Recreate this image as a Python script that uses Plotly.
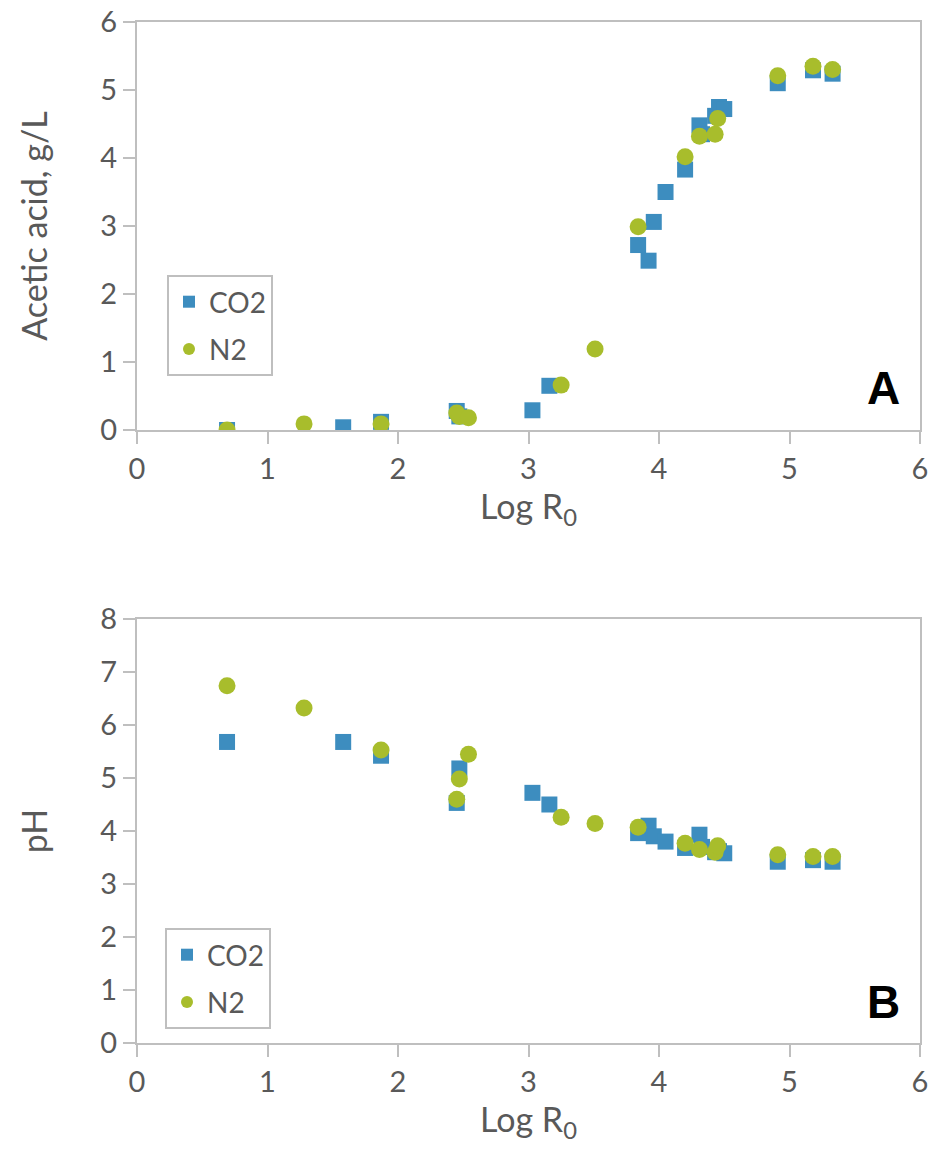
import plotly.graph_objects as go

# ---- data ----
x_co2 = [0.69, 1.58, 1.87, 2.45, 2.47, 3.03, 3.16, 3.84, 3.92, 3.96,
         4.05, 4.20, 4.31, 4.33, 4.43, 4.46, 4.50, 4.91, 5.18, 5.33]
acetic_co2 = [0.00, 0.04, 0.12, 0.28, 0.20, 0.29, 0.65, 2.72, 2.49, 3.06,
              3.50, 3.83, 4.48, 4.35, 4.62, 4.75, 4.72, 5.10, 5.29, 5.24]
ph_co2 = [5.68, 5.68, 5.42, 4.53, 5.18, 4.72, 4.50, 3.96, 4.10, 3.90,
          3.80, 3.68, 3.93, 3.70, 3.60, 3.62, 3.58, 3.42, 3.45, 3.42]

x_n2 = [0.69, 1.28, 1.87, 2.45, 2.47, 2.54, 3.25, 3.51, 3.84, 4.20,
        4.31, 4.43, 4.45, 4.91, 5.18, 5.33]
acetic_n2 = [0.00, 0.09, 0.09, 0.25, 0.20, 0.18, 0.66, 1.19, 2.99, 4.02,
             4.32, 4.35, 4.58, 5.21, 5.35, 5.30]
ph_n2 = [6.74, 6.32, 5.53, 4.60, 4.98, 5.45, 4.26, 4.14, 4.07, 3.77,
         3.65, 3.60, 3.72, 3.55, 3.52, 3.52]

x_ticks = [0, 1, 2, 3, 4, 5, 6]
acetic_ticks = [0, 1, 2, 3, 4, 5, 6]
ph_ticks = [0, 1, 2, 3, 4, 5, 6, 7, 8]

# ---- style ----
W, H = 933, 1157
BLUE = "#3d8dbf"
GREEN = "#a8bd2c"
AXIS = "#bfbfbf"
TXT = "#595959"
FONT = "Lato, 'Open Sans', sans-serif"
TICK_SIZE = 29
TITLE_SIZE = 34
LEG_SIZE = 28

fig = go.Figure()

fig.add_trace(go.Scatter(x=x_co2, y=acetic_co2, mode="markers", name="CO2",
                         marker=dict(symbol="square", size=16, color=BLUE),
                         xaxis="x", yaxis="y", legend="legend", legendgroup="a1"))
fig.add_trace(go.Scatter(x=x_n2, y=acetic_n2, mode="markers", name="N2",
                         marker=dict(symbol="circle", size=17, color=GREEN),
                         xaxis="x", yaxis="y", legend="legend", legendgroup="a2"))
fig.add_trace(go.Scatter(x=x_co2, y=ph_co2, mode="markers", name="CO2",
                         marker=dict(symbol="square", size=16, color=BLUE),
                         xaxis="x2", yaxis="y2", legend="legend2", legendgroup="b1"))
fig.add_trace(go.Scatter(x=x_n2, y=ph_n2, mode="markers", name="N2",
                         marker=dict(symbol="circle", size=17, color=GREEN),
                         xaxis="x2", yaxis="y2", legend="legend2", legendgroup="b2"))

xdom = [137 / W, 920 / W]
ydom_top = [1 - 430 / H, 1 - 22 / H]
ydom_bot = [1 - 1043 / H, 1 - 619 / H]

common_axis = dict(showline=True, linecolor=AXIS, linewidth=2, mirror=True,
                   ticks="outside", ticklen=12, tickwidth=2, tickcolor=AXIS,
                   showgrid=False, zeroline=False, automargin=False,
                   tickfont=dict(family=FONT, size=TICK_SIZE, color=TXT))

title_font = dict(family=FONT, size=TITLE_SIZE, color=TXT)

fig.update_layout(
    width=W, height=H,
    margin=dict(l=0, r=0, t=0, b=0),
    paper_bgcolor="white", plot_bgcolor="white",
    font=dict(family=FONT, color=TXT),
    xaxis=dict(domain=xdom, range=[0, 6], tickvals=x_ticks, anchor="y",
               title=dict(text="Log R<sub>0</sub>", font=title_font, standoff=6),
               **common_axis),
    yaxis=dict(domain=ydom_top, range=[0, 6], tickvals=acetic_ticks, anchor="x",
               title=dict(text="Acetic acid, g/L", font=title_font, standoff=42),
               **common_axis),
    xaxis2=dict(domain=xdom, range=[0, 6], tickvals=x_ticks, anchor="y2",
                title=dict(text="Log R<sub>0</sub>", font=title_font, standoff=6),
                **common_axis),
    yaxis2=dict(domain=ydom_bot, range=[0, 8], tickvals=ph_ticks, anchor="x2",
                title=dict(text="pH", font=title_font, standoff=42),
                **common_axis),
    legend=dict(x=167 / W, y=1 - 275 / H, xanchor="left", yanchor="top",
                bordercolor=AXIS, borderwidth=2, bgcolor="white",
                font=dict(family=FONT, size=LEG_SIZE, color=TXT),
                itemsizing="constant", traceorder="grouped", tracegroupgap=8),
    legend2=dict(x=165 / W, y=1 - 928 / H, xanchor="left", yanchor="top",
                 bordercolor=AXIS, borderwidth=2, bgcolor="white",
                 font=dict(family=FONT, size=LEG_SIZE, color=TXT),
                 itemsizing="constant", traceorder="grouped", tracegroupgap=8),
    showlegend=True,
)

fig.add_annotation(text="<b>A</b>", x=883 / W, y=1 - 388 / H, xref="paper", yref="paper",
                   xanchor="center", yanchor="middle", showarrow=False,
                   font=dict(family="Liberation Sans, Arial", size=46, color="black"))
fig.add_annotation(text="<b>B</b>", x=883 / W, y=1 - 1002 / H, xref="paper", yref="paper",
                   xanchor="center", yanchor="middle", showarrow=False,
                   font=dict(family="Liberation Sans, Arial", size=46, color="black"))

fig.write_html("out.html")
